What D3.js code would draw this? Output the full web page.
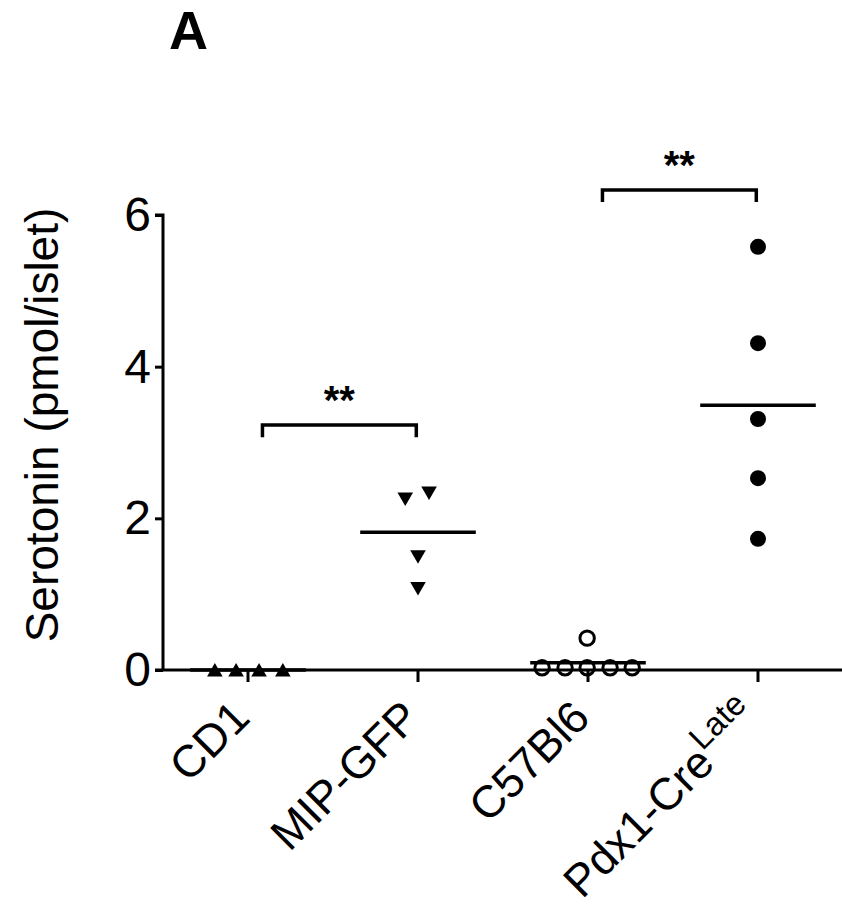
<!DOCTYPE html>
<html>
<head>
<meta charset="utf-8">
<script src="https://cdn.jsdelivr.net/npm/d3@7"></script>
<style>
  html, body { margin: 0; padding: 0; background: #fff; }
  svg { display: block; font-family: "Liberation Sans", Arial, sans-serif; }
</style>
</head>
<body>
<svg id="chart" width="842" height="915"></svg>
<script>
// ---- data ----
const groups = ["CD1", "MIP-GFP", "C57Bl6", "Pdx1-Cre"];
const groupSup = ["", "", "", "Late"];
const symbols = ["triangleUp", "triangleDown", "circleOpen", "circleFilled"];
const cd1Values = [0, 0, 0, 0];
const cd1Jitter = [-0.195, -0.07, 0.065, 0.205];
const mipValues = [2.28, 2.36, 1.52, 1.10];
const mipJitter = [-0.075, 0.065, 0, 0];
const c57Values = [0.03, 0.03, 0.03, 0.03, 0.03, 0.42];
const c57Jitter = [-0.27, -0.135, -0.005, 0.13, 0.26, -0.005];
const pdxValues = [5.58, 4.31, 3.31, 2.53, 1.73];
const pdxJitter = [0, 0, 0, 0, 0];
const yTicks = [0, 2, 4, 6];
const yLabel = "Serotonin (pmol/islet)";
const panelLabel = "A";
// significance brackets
const brackets = [
  { from: 0, to: 1, y: 3.23, label: "**" },
  { from: 2, to: 3, y: 6.33, label: "**" }
];

const series = [
  { values: cd1Values, jitter: cd1Jitter },
  { values: mipValues, jitter: mipJitter },
  { values: c57Values, jitter: c57Jitter },
  { values: pdxValues, jitter: pdxJitter }
];

// ---- layout ----
const svg = d3.select("#chart");
const x = d3.scaleBand().domain(groups).range([163, 843]);
const y = d3.scaleLinear().domain([0, 6]).range([670, 215]);
const bw = x.bandwidth();
const cx = g => x(g) + bw / 2;

// panel label
svg.append("text").attr("x", 169).attr("y", 49)
  .attr("font-size", 54).attr("font-weight", "bold").text(panelLabel);

// y axis
const yAxis = svg.append("g").attr("transform", "translate(163,0)")
  .call(d3.axisLeft(y).tickValues(yTicks).tickSize(8).tickPadding(4).tickFormat(d3.format("d")));
yAxis.select(".domain").attr("stroke-width", 3).attr("d", `M-8,${y(6)}H0V${y(0)}`);
yAxis.selectAll(".tick line").attr("stroke-width", 3);
yAxis.selectAll(".tick text").attr("font-size", 48).attr("fill", "#000")
  .attr("font-family", "Liberation Sans, Arial, sans-serif");

// x axis
const xAxis = svg.append("g").attr("transform", "translate(0,670)")
  .call(d3.axisBottom(x).tickSize(12).tickFormat(""));
xAxis.select(".domain").attr("stroke-width", 3).attr("d", `M155,0H842`);
xAxis.selectAll(".tick line").attr("stroke-width", 3);

// x labels
groups.forEach((g, i) => {
  const t = svg.append("text")
    .attr("transform", `translate(${cx(g) + 4},${720}) rotate(-45)`)
    .attr("text-anchor", "end")
    .attr("font-size", 45);
  t.append("tspan").text(g);
  if (groupSup[i]) {
    t.append("tspan").attr("font-size", 33).attr("dy", "-0.6em").text(groupSup[i]);
  }
});

// y label
svg.append("text")
  .attr("transform", `translate(58,${425}) rotate(-90)`)
  .attr("text-anchor", "middle")
  .attr("font-size", 46)
  .text(yLabel);

// means
series.forEach((s, i) => {
  const m = d3.mean(s.values);
  svg.append("line")
    .attr("x1", cx(groups[i]) - bw * 0.34).attr("x2", cx(groups[i]) + bw * 0.34)
    .attr("y1", y(m)).attr("y2", y(m))
    .attr("stroke", "#000").attr("stroke-width", 3.5);
});

// points
series.forEach((s, i) => {
  const kind = symbols[i];
  s.values.forEach((v, j) => {
    const px = cx(groups[i]) + s.jitter[j] * bw;
    const py = y(v);
    if (kind === "triangleUp" || kind === "triangleDown") {
      const path = d3.symbol().type(d3.symbolTriangle).size(105)();
      svg.append("path").attr("d", path)
        .attr("transform", `translate(${px},${py + (kind === "triangleUp" ? 2 : 0)}) rotate(${kind === "triangleDown" ? 180 : 0})`)
        .attr("fill", "#000");
    } else if (kind === "circleOpen") {
      svg.append("circle").attr("cx", px).attr("cy", py).attr("r", 7.2)
        .attr("fill", "none").attr("stroke", "#000").attr("stroke-width", 3);
    } else {
      svg.append("circle").attr("cx", px).attr("cy", py).attr("r", 8).attr("fill", "#000");
    }
  });
});

// brackets
brackets.forEach(b => {
  const x1 = cx(groups[b.from]) + bw * 0.085;
  const x2 = cx(groups[b.to]) - bw * 0.01;
  const yy = y(b.y);
  const legs = y(b.y - 0.16) - yy;
  svg.append("path")
    .attr("d", `M${x1},${yy + legs}V${yy}H${x2}V${yy + legs}`)
    .attr("fill", "none").attr("stroke", "#000").attr("stroke-width", 3.5);
  svg.append("text")
    .attr("x", (x1 + x2) / 2).attr("y", yy - 11)
    .attr("text-anchor", "middle").attr("font-size", 40).attr("font-weight", "bold")
    .text(b.label);
});
</script>
</body>
</html>
